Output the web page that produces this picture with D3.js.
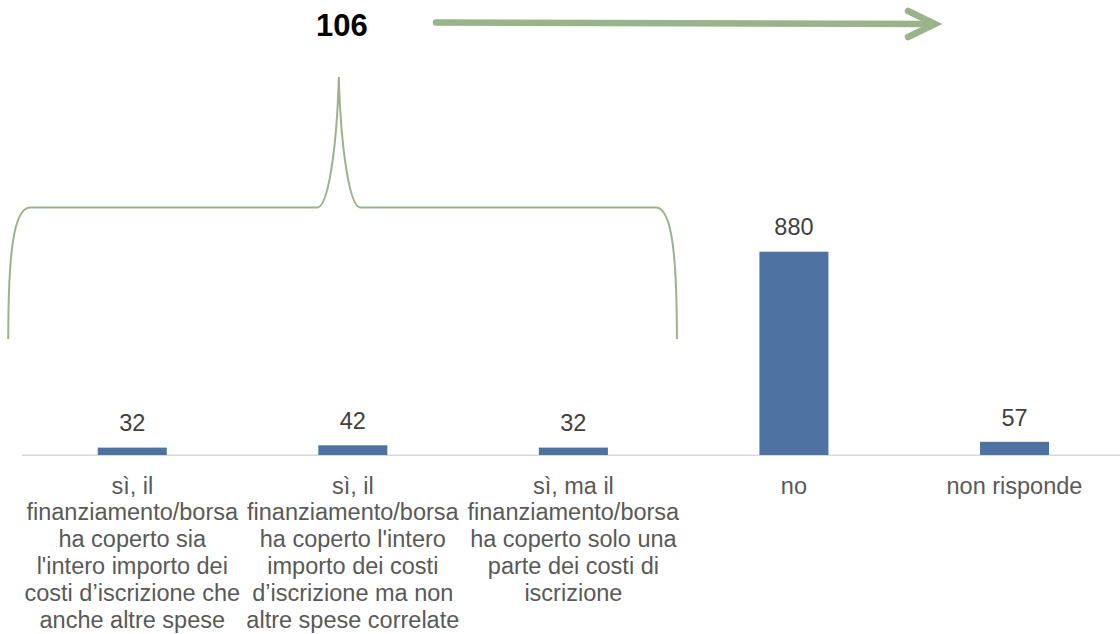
<!DOCTYPE html>
<html>
<head>
<meta charset="utf-8">
<script src="https://cdn.jsdelivr.net/npm/d3@7"></script>
<style>
  body { margin: 0; background: #fff; }
  svg { display: block; font-family: "Liberation Sans", Arial, sans-serif; }
</style>
</head>
<body>
<script>
var categories = [
  "sì, il\nfinanziamento/borsa\nha coperto sia\nl'intero importo dei\ncosti d’iscrizione che\nanche altre spese",
  "sì, il\nfinanziamento/borsa\nha coperto l'intero\nimporto dei costi\nd’iscrizione ma non\naltre spese correlate",
  "sì, ma il\nfinanziamento/borsa\nha coperto solo una\nparte dei costi di\niscrizione",
  "no",
  "non risponde"
]
var values = [32, 42, 32, 880, 57]
var groupedIdx = [0, 1, 2]   // the three "sì" answers summed above the brace

var width = 1120
var height = 634
var baseY = 455

var svg = d3.select('body').append('svg').attr('width', width).attr('height', height)

var x = d3.scaleBand().domain(d3.range(categories.length)).range([22, 1124.75])
  .paddingInner(0.687).paddingOuter(0.3435)
var y = d3.scaleLinear().domain([0, 1000]).range([baseY, baseY - 231])

// axis line
svg.append('line').attr('x1', 22).attr('x2', width).attr('y1', baseY + 0.3).attr('y2', baseY + 0.3)
  .attr('stroke', '#d9d9d9').attr('stroke-width', 1.4)

// bars
svg.append('g').selectAll('rect').data(values).enter().append('rect')
  .attr('x', (d, i) => x(i))
  .attr('width', x.bandwidth())
  .attr('y', d => y(d))
  .attr('height', d => baseY - y(d))
  .attr('fill', '#4e72a1')

// value labels
svg.append('g').selectAll('text').data(values).enter().append('text')
  .attr('x', (d, i) => x(i) + x.bandwidth() / 2)
  .attr('y', d => y(d) - 16.3)
  .attr('text-anchor', 'middle')
  .attr('font-size', 23.5)
  .attr('fill', '#404040')
  .text(d => d)

// category labels
var cat = svg.append('g').selectAll('text').data(categories).enter().append('text')
  .attr('text-anchor', 'middle')
  .attr('font-size', 23.5)
  .attr('fill', '#595959')
cat.each(function (d, i) {
  var cx = x(i) + x.bandwidth() / 2
  d.split('\n').forEach((line, k) => {
    d3.select(this).append('tspan').attr('x', cx).attr('y', baseY + 38.5 + k * 26.8).text(line)
  })
})

// brace over the grouped categories
var green = '#9bb38a'
var bx0 = x(groupedIdx[0]) - 89.5
var bx1 = x(groupedIdx[groupedIdx.length - 1]) + x.bandwidth() + 69
var bm = (x(groupedIdx[0]) + x(groupedIdx[groupedIdx.length - 1]) + x.bandwidth()) / 2 - 14
var bBot = 339, bMid = 207.5, bTop = 77
var p = d3.path()
p.moveTo(bx0, bBot)
p.bezierCurveTo(bx0, 255, bx0 + 5, bMid, bx0 + 22, bMid)
p.lineTo(bm - 21.5, bMid)
p.bezierCurveTo(bm - 11, bMid, bm - 2, 150, bm, bTop)
p.bezierCurveTo(bm + 2, 150, bm + 11, bMid, bm + 21.5, bMid)
p.lineTo(bx1 - 21, bMid)
p.bezierCurveTo(bx1 - 5, bMid, bx1, 255, bx1, bBot)
svg.append('path').attr('d', p.toString()).attr('fill', 'none')
  .attr('stroke', green).attr('stroke-width', 2)

// total label
svg.append('text').attr('x', bm + 3).attr('y', 36)
  .attr('text-anchor', 'middle').attr('font-size', 31).attr('font-weight', 'bold')
  .attr('fill', '#000').text(d3.sum(groupedIdx, i => values[i]))

// arrow
var arrow = svg.append('g').attr('stroke', green).attr('stroke-width', 6.5)
  .attr('stroke-linecap', 'round').attr('fill', 'none')
arrow.append('line').attr('x1', 436).attr('y1', 22.5).attr('x2', 933).attr('y2', 24)
arrow.append('polyline').attr('points', '908,11 935,24 908,37').attr('stroke-linejoin', 'miter')
</script>
</body>
</html>
